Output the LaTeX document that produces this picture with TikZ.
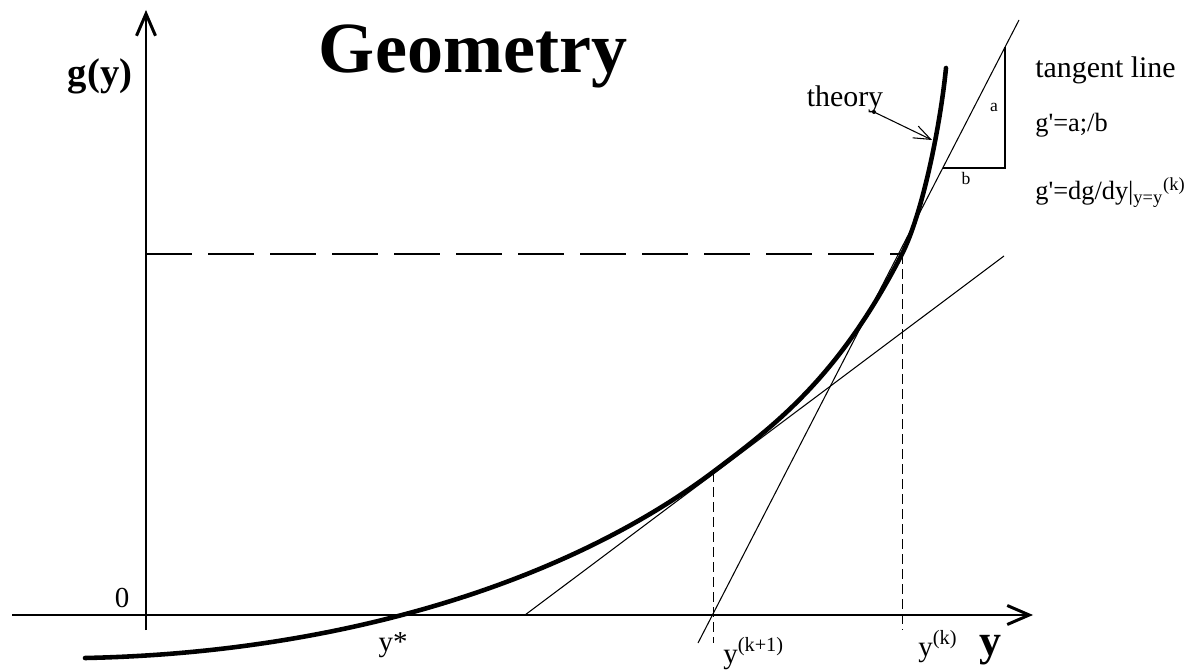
\documentclass[tikz,border=0pt]{standalone}
\usepackage{fontspec}
\setmainfont{Liberation Serif}
\usetikzlibrary{positioning,arrows.meta}
\tikzset{
  axis-line/.style={line width=1.7pt, -{Straight Barb[length=4.4mm, width=3.8mm]}},
  theory-curve/.style={line width=2.6pt, line cap=round},
  tangent-line/.style={line width=0.6pt},
  guide-line/.style={line width=0.6pt, dash pattern=on 9.2mm off 3.2mm},
  drop-line/.style={line width=0.5pt, dash pattern=on 2mm off 1mm},
  pointer-arrow/.style={line width=0.6pt, -{Straight Barb[length=3.4mm, width=2.6mm]}},
  title-text/.style={font=\fontsize{41}{46}\selectfont\bfseries, inner sep=0pt},
  axis-name/.style={font=\fontsize{22}{26}\selectfont\bfseries, inner sep=0pt},
  tick-text/.style={font=\fontsize{16.5}{19}\selectfont, inner sep=0pt},
  note-text/.style={font=\fontsize{17}{20}\selectfont, inner sep=0pt},
  formula-text/.style={font=\fontsize{15}{18}\selectfont, inner sep=0pt},
  small-text/.style={font=\fontsize{10}{12}\selectfont, inner sep=0pt}
}
\begin{document}
\begin{tikzpicture}[x=0.2mm, y=0.2mm]
\useasboundingbox (0,0) rectangle (1195,670);

% Axes
\coordinate (xstart) at (12,55);
\coordinate (xend) at (1033,55);
\coordinate (ybot) at (146,40);
\coordinate (ytop) at (146,660);
\draw[axis-line] (xstart) -- (xend);
\draw[axis-line] (ybot) -- (ytop);

% Points of tangency
\coordinate (curve-start) at (85,12);
\coordinate (pk1) at (713,198);
\coordinate (pk) at (902,416);
\coordinate (curve-end) at (946,602);
\coordinate (pk1-foot) at (713,27);
\coordinate (pk-foot) at (902,40);
\coordinate (gk) at (146,416);

% Theory curve
\draw[theory-curve] (curve-start) .. controls (335,17) and (563,85.5) .. (pk1)
  .. controls (776,245.3) and (839,293.2) .. (pk)
  .. controls (922,455) and (940,542) .. (curve-end);

% Guide lines
\draw[guide-line] (gk) -- (pk);
\draw[drop-line] (pk1) -- (pk1-foot);
\draw[drop-line] (pk) -- (pk-foot);

% Tangent lines
\coordinate (t1a) at (525,55);
\coordinate (t1b) at (1004,414);
\coordinate (t2a) at (698,27);
\coordinate (t2b) at (1019,650);
\draw[tangent-line] (t1a) -- (t1b);
\draw[tangent-line] (t2a) -- (t2b);

% Slope triangle
\coordinate (tri-a) at (943,502);
\coordinate (tri-b) at (1005,502);
\coordinate (tri-c) at (1005,623);
\draw[tangent-line] (tri-a) -- (tri-b) -- (tri-c);
\node[small-text] (side-a) at (994,563) {a};
\node[small-text] (side-b) at (966,492) {b};

% Labels
\node[title-text, anchor=base] (title) at (473,597) {Geometry};
\node[axis-name] (gy-label) at (100,594) {g(y)};
\node[axis-name, font=\fontsize{25}{28}\selectfont\bfseries, anchor=base] (y-label) at (990,15) {y};
\node[tick-text] (zero) at (122,72) {0};
\node[tick-text, anchor=base] (ystar) at (393,19) {y*};
\node[tick-text, anchor=base west] (yk1) at (723,7) {y\textsuperscript{(k+1)}};
\node[tick-text, anchor=base west] (yk) at (918,14) {y\textsuperscript{(k)}};

% Theory pointer
\node[note-text, anchor=base] (theory) at (845,563) {theory};
\coordinate (theory-tail) at (874,558);
\coordinate (theory-tip) at (932,530);
\fill (theory-tail) circle (2);
\draw[pointer-arrow] (theory-tail) -- (theory-tip);

% Tangent notes
\node[note-text, anchor=base west] (tangent) at (1035,592) {tangent line};
\node[formula-text, anchor=base west] (slope-ratio) at (1035,538) {g\textquotesingle=a;/b};
\node[formula-text, anchor=base west] (slope-deriv) at (1035,470) {g\textquotesingle=dg/dy|\textsubscript{y=y}\textsuperscript{(k)}};
\end{tikzpicture}
\end{document}
